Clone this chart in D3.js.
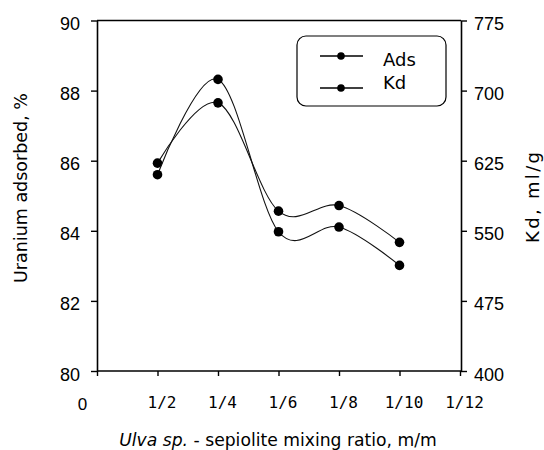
<!DOCTYPE html>
<html>
<head>
<meta charset="utf-8">
<script src="https://cdn.jsdelivr.net/npm/d3@7"></script>
<style>
  body { margin: 0; background: #fff; }
  svg { display: block; }
</style>
</head>
<body>
<svg id="chart" width="544" height="450"></svg>
<script>
// Mixing ratios on the x axis (tick labels) and the ratios that were measured
const ratioLabels = ["0", "1/2", "1/4", "1/6", "1/8", "1/10", "1/12"];
const sampleRatios = ["1/2", "1/4", "1/6", "1/8", "1/10"];
// Uranium adsorbed, % (left axis)
const adsorbedPct = [85.93, 87.65, 84.56, 84.72, 83.67];
// Distribution coefficient Kd, ml/g (right axis)
const kdValues = [610, 712, 549, 554, 513];
const leftTicks = [80, 82, 84, 86, 88, 90];
const rightTicks = [400, 475, 550, 625, 700, 775];
const seriesNames = ["Ads", "Kd"];

const svg = d3.select("#chart");
const sansFont = "'DejaVu Sans', Verdana, sans-serif";
const tickFont = "'Liberation Sans', Arial, sans-serif";
const monoFont = "'DejaVu Sans Mono', monospace";

const plotLeft = 97, plotRight = 461, plotTop = 20.5, plotBottom = 371;

const x = d3.scalePoint().domain(ratioLabels).range([plotLeft, 460]);
const yL = d3.scaleLinear().domain([80, 90]).range([plotBottom, plotTop]);
const yR = d3.scaleLinear().domain([400, 775]).range([plotBottom, plotTop]);

function styleAxis(g) {
  g.select(".domain").attr("stroke", "#000").attr("stroke-width", 1.6);
  g.selectAll(".tick line").attr("stroke", "#000").attr("stroke-width", 1.4);
  g.selectAll("text").attr("fill", "#000");
}

// Left axis
svg.append("g")
  .attr("transform", `translate(${plotLeft},0)`)
  .call(d3.axisLeft(yL).tickValues(leftTicks).tickSize(6).tickSizeOuter(0).tickPadding(11))
  .call(styleAxis)
  .call(g => g.selectAll("text")
    .attr("font-family", tickFont).attr("font-size", 18).attr("dy", "0.5em"));

// Right axis
svg.append("g")
  .attr("transform", `translate(${plotRight},0)`)
  .call(d3.axisRight(yR).tickValues(rightTicks).tickSize(6).tickSizeOuter(0).tickPadding(7))
  .call(styleAxis)
  .call(g => g.selectAll("text")
    .attr("font-family", tickFont).attr("font-size", 18).attr("dy", "0.5em"));

// Bottom axis
svg.append("g")
  .attr("transform", `translate(0,${plotBottom})`)
  .call(d3.axisBottom(x).tickSize(5).tickSizeOuter(0).tickPadding(21))
  .call(styleAxis)
  .call(g => g.select(".domain").attr("d", `M${plotLeft},0H${plotRight}`))
  .call(g => g.selectAll("text")
    .attr("font-family", d => d === "0" ? tickFont : monoFont)
    .attr("font-size", d => d === "0" ? 17 : 16)
    .attr("dx", d => d === "0" ? -15 : 4)
    .attr("dy", d => d === "0" ? "0.78em" : "0.71em"));

// Top frame line
svg.append("line")
  .attr("x1", plotLeft).attr("x2", plotRight)
  .attr("y1", plotTop).attr("y2", plotTop)
  .attr("stroke", "#000").attr("stroke-width", 1.6);

// Series
const curve = d3.curveCardinal.tension(0);
const series = [
  { name: seriesNames[0], values: adsorbedPct, y: yL },
  { name: seriesNames[1], values: kdValues, y: yR }
];

series.forEach(s => {
  const pts = sampleRatios.map((r, i) => [x(r), s.y(s.values[i])]);
  svg.append("path")
    .attr("d", d3.line().curve(curve)(pts))
    .attr("fill", "none")
    .attr("stroke", "#111")
    .attr("stroke-width", 1.1);
  svg.append("g").selectAll("circle")
    .data(pts).join("circle")
    .attr("cx", d => d[0]).attr("cy", d => d[1])
    .attr("r", 4.8).attr("fill", "#000");
});

// Legend
const legend = svg.append("g");
legend.append("rect")
  .attr("x", 297).attr("y", 36).attr("width", 149).attr("height", 70)
  .attr("rx", 9).attr("ry", 9)
  .attr("fill", "#fff").attr("stroke", "#000").attr("stroke-width", 1.2);
const legendRows = [56, 88];
seriesNames.forEach((name, i) => {
  const ly = legendRows[i];
  legend.append("line")
    .attr("x1", 320).attr("x2", 363).attr("y1", ly).attr("y2", ly)
    .attr("stroke", "#000").attr("stroke-width", 1.4);
  legend.append("circle")
    .attr("cx", 341).attr("cy", ly).attr("r", 3.8).attr("fill", "#000");
  legend.append("text")
    .attr("x", 383).attr("y", ly + (i === 0 ? 10 : 1))
    .attr("font-family", sansFont).attr("font-size", 18)
    .text(name);
});

// Axis titles
svg.append("text")
  .attr("transform", "translate(27,188) rotate(-90)")
  .attr("text-anchor", "middle")
  .attr("font-family", sansFont).attr("font-size", 17.5)
  .text("Uranium adsorbed, %");

svg.append("text")
  .attr("transform", "translate(539,197.5) rotate(-90)")
  .attr("text-anchor", "middle")
  .attr("font-family", sansFont).attr("font-size", 18)
  .attr("textLength", 91).attr("lengthAdjust", "spacing")
  .text("Kd, ml/g");

const xt = svg.append("text")
  .attr("x", 278).attr("y", 446)
  .attr("text-anchor", "middle")
  .attr("font-family", sansFont).attr("font-size", 17.2);
xt.append("tspan").attr("font-style", "italic").text("Ulva sp.");
xt.append("tspan").text(" - sepiolite mixing ratio, m/m");
</script>
</body>
</html>
